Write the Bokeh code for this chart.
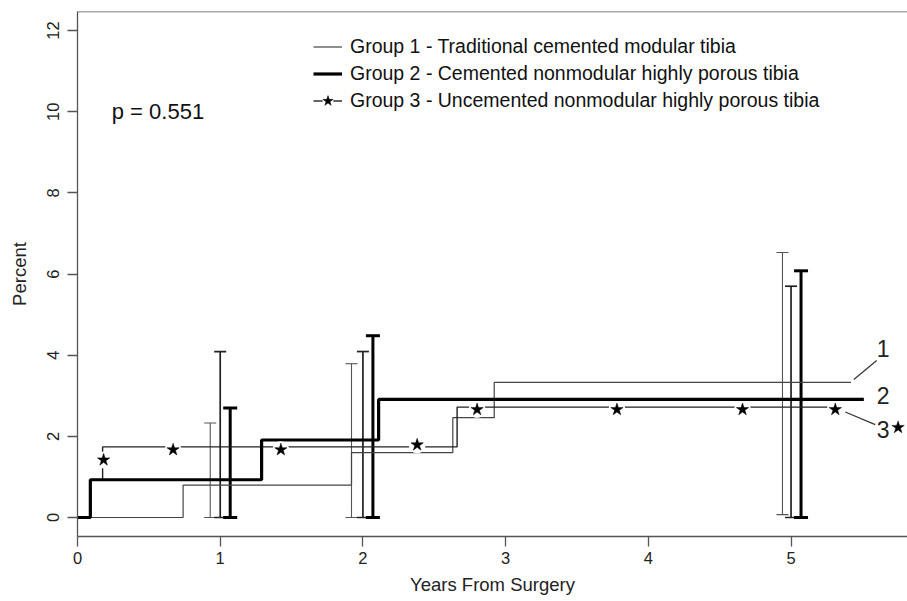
from bokeh.plotting import figure
from bokeh.models import (Range1d, FixedTicker, Whisker, TeeHead, ColumnDataSource,
                          Legend, LegendItem, Span)
from bokeh.core.properties import value
from bokeh.embed import file_html
from bokeh.resources import INLINE

FONT = "Liberation Sans"

# ---- data ----
g1_x = [0, 0.74, 1.92, 2.63, 2.92, 5.42]
g1_y = [0, 0.80, 1.60, 2.46, 3.33, 3.33]
g2_x = [0, 0.09, 1.29, 2.11, 5.51]
g2_y = [0, 0.93, 1.91, 2.91, 2.91]
g3_x = [0, 0.09, 0.176, 2.66, 5.36]
g3_y = [0, 0.93, 1.74, 2.72, 2.72]
g3_star_x = [0.183, 0.67, 1.425, 2.38, 2.80, 3.78, 4.66, 5.31]
g3_star_y = [1.42, 1.67, 1.67, 1.79, 2.66, 2.66, 2.66, 2.66]

ci_g1_x = [0.93, 1.92, 4.94]
ci_g1_lo = [0.0, 0.0, 0.07]
ci_g1_hi = [2.33, 3.79, 6.53]
ci_g3_x = [1.00, 2.00, 5.00]
ci_g3_lo = [0.0, 0.0, 0.0]
ci_g3_hi = [4.09, 4.09, 5.70]
ci_g2_x = [1.07, 2.07, 5.07]
ci_g2_lo = [0.0, 0.0, 0.0]
ci_g2_hi = [2.70, 4.48, 6.08]

legend_labels = ["Group 1 - Traditional cemented modular tibia",
                 "Group 2 - Cemented nonmodular highly porous tibia",
                 "Group 3 - Uncemented nonmodular highly porous tibia"]
end_label_text = ["1", "2", "3"]
end_label_x = [5.645, 5.645, 5.645]
end_label_y = [4.16, 3.00, 2.17]
leader_x0 = [5.44, 5.38]
leader_y0 = [3.40, 2.60]
leader_x1 = [5.60, 5.59]
leader_y1 = [3.87, 2.29]
end_star_x = [5.75]
end_star_y = [2.22]
p_text = ["p = 0.551"]
p_x = [0.24]
p_y = [10.0]

x_title = "Years From Surgery"
y_title = "Percent"
x_ticks = [0, 1, 2, 3, 4, 5]
y_ticks = [0, 2, 4, 6, 8, 10, 12]
x_lo, x_hi = 0.0, 5.816
y_lo, y_hi = -0.468, 12.47

AX = "#555555"

p = figure(width=907, height=601, output_backend="svg", toolbar_location=None,
           x_range=Range1d(x_lo, x_hi), y_range=Range1d(y_lo, y_hi),
           min_border_left=77, min_border_right=0, min_border_top=11, min_border_bottom=65)
p.outline_line_color = None
p.xgrid.visible = False
p.ygrid.visible = False
p.background_fill_color = "white"
p.border_fill_color = "white"

for ax in (p.xaxis[0], p.yaxis[0]):
    ax.axis_line_color = AX
    ax.axis_line_width = 1.3
    ax.major_tick_line_color = AX
    ax.major_tick_line_width = 1.3
    ax.major_tick_in = 0
    ax.major_tick_out = 10
    ax.minor_tick_line_color = None
    ax.major_label_text_font = FONT
    ax.major_label_text_font_size = "16.5px"
    ax.major_label_text_color = "#222222"
    ax.axis_label_text_font = FONT
    ax.axis_label_text_font_size = "18.5px"
    ax.axis_label_text_font_style = "normal"
    ax.axis_label_text_color = "#222222"

p.xaxis.ticker = FixedTicker(ticks=x_ticks)
p.yaxis.ticker = FixedTicker(ticks=y_ticks)
p.yaxis.major_label_orientation = "vertical"
p.xaxis.axis_label = x_title
p.yaxis.axis_label = y_title
p.xaxis.major_label_standoff = 5
p.xaxis.axis_label_standoff = 7
p.yaxis.major_label_standoff = 8
p.yaxis.axis_label_standoff = 15

p.add_layout(Span(location=y_hi, dimension="width", line_color=AX, line_width=1.3))

# confidence bars
def bars(xs, lo, hi, color, lw, cap):
    src = ColumnDataSource(dict(x=xs, lo=lo, hi=hi))
    w = Whisker(base="x", lower="lo", upper="hi", source=src, dimension="height",
                line_color=color, line_width=lw,
                upper_head=TeeHead(size=cap, line_color=color, line_width=lw),
                lower_head=TeeHead(size=cap, line_color=color, line_width=lw))
    p.add_layout(w)

bars(ci_g1_x, ci_g1_lo, ci_g1_hi, "#555555", 1.1, 12)
bars(ci_g3_x, ci_g3_lo, ci_g3_hi, "#222222", 1.7, 12)
bars(ci_g2_x, ci_g2_lo, ci_g2_hi, "#000000", 3.0, 14)

r1 = p.step(g1_x, g1_y, mode="after", line_color="#444444", line_width=1.2)
r3 = p.step(g3_x, g3_y, mode="after", line_color="#222222", line_width=1.4)
r2 = p.step(g2_x, g2_y, mode="after", line_color="#000000", line_width=3.2)

halo = p.scatter(g3_star_x, g3_star_y, marker="circle", size=17, fill_color="white", line_color=None)
stars = p.scatter(g3_star_x, g3_star_y, marker="star", size=13, fill_color="black", line_color="black", line_width=0.5)

# end labels
p.segment(leader_x0, leader_y0, leader_x1, leader_y1, line_color="#333333", line_width=1.2)
p.text(end_label_x, end_label_y, text=end_label_text, text_align="center", text_baseline="middle",
       text_font=value(FONT), text_font_size="23px", text_color="#222222")
p.scatter(end_star_x, end_star_y, marker="star", size=13, fill_color="black", line_color="black", line_width=0.5)

p.text(p_x, p_y, text=p_text, text_align="left", text_baseline="middle",
       text_font=value(FONT), text_font_size="22px", text_color="#111111")

legend = Legend(items=[LegendItem(label=legend_labels[0], renderers=[r1]),
                       LegendItem(label=legend_labels[1], renderers=[r2]),
                       LegendItem(label=legend_labels[2], renderers=[r3, halo, stars])],
                location=(236, 422), orientation="vertical",
                label_text_font=FONT, label_text_font_size="19.5px", label_text_color="#111111",
                glyph_width=29, glyph_height=27, label_height=27, label_standoff=8,
                spacing=0, padding=0, margin=0,
                border_line_color=None, background_fill_alpha=0)
p.add_layout(legend)

open("out.html", "w").write(file_html(p, INLINE))
